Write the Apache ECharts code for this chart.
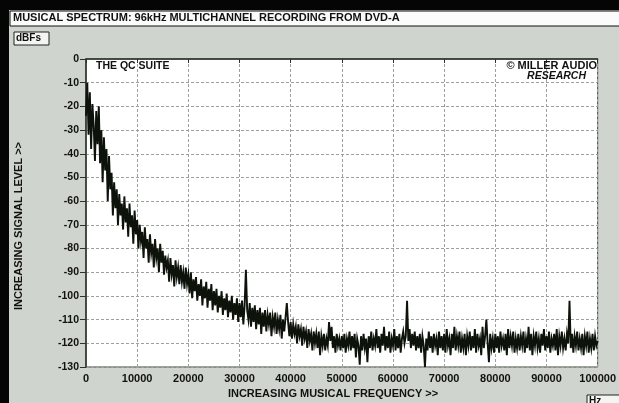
<!DOCTYPE html>
<html>
<head>
<meta charset="utf-8">
<script src="https://cdn.jsdelivr.net/npm/echarts@6/dist/echarts.min.js"></script>
<style>
html,body{margin:0;padding:0;background:#000;}
#chart{width:619px;height:403px;}
</style>
</head>
<body>
<div id="chart"></div>
<script>
// ---- data ----
var chartTitle = 'MUSICAL SPECTRUM: 96kHz MULTICHANNEL RECORDING FROM DVD-A';
var yUnit = 'dBFs';
var xUnit = 'Hz';
var xAxisName = 'INCREASING MUSICAL FREQUENCY >>';
var yAxisName = 'INCREASING SIGNAL LEVEL >>';
var xTicks = [0, 10000, 20000, 30000, 40000, 50000, 60000, 70000, 80000, 90000, 100000];
var yTicks = [0, -10, -20, -30, -40, -50, -60, -70, -80, -90, -100, -110, -120, -130];
var freqStepHz = 250; // spacing of the spectrum bins
// level in dBFs, one value per 250 Hz bin, 0 Hz .. 100 kHz
var levels = [
 -24,-10,-32,-14,-38,-19,-28,-43,-22,-36,-20,-44,-30,-52,-33,-47,-38,-60,-41,-55,
 -48,-66,-52,-63,-55,-70,-57,-66,-61,-72,-58,-69,-63,-75,-61,-71,-66,-78,-64,-74,
 -68,-80,-70,-77,-73,-84,-71,-80,-76,-86,-74,-82,-78,-88,-76,-84,-80,-90,-78,-86,
 -81,-91,-83,-88,-85,-94,-84,-91,-87,-96,-85,-92,-88,-95,-87,-94,-90,-97,-88,-95,
 -91,-99,-90,-101,-93,-98,-92,-102,-95,-100,-93,-104,-96,-101,-94,-105,-97,-102,-95,-106,
 -98,-104,-97,-107,-100,-105,-98,-108,-101,-106,-99,-109,-102,-107,-100,-110,-103,-108,-101,-111,
 -103,-109,-102,-112,-104,-89,-106,-110,-103,-113,-105,-111,-104,-114,-106,-112,-105,-116,-107,-113,
 -106,-115,-108,-112,-107,-117,-109,-113,-107,-116,-110,-114,-108,-118,-110,-115,-109,-103,-111,-117,
 -111,-118,-112,-116,-113,-120,-112,-117,-114,-121,-113,-118,-115,-122,-114,-119,-116,-123,-115,-120,
 -116,-122,-115,-125,-117,-121,-116,-123,-118,-121,-111,-119,-113,-122,-117,-124,-116,-121,-118,-123,
 -117,-122,-116,-124,-118,-121,-115,-123,-117,-122,-116,-126,-118,-121,-129,-117,-123,-116,-122,-118,
 -128,-117,-122,-115,-123,-118,-121,-114,-122,-117,-124,-116,-121,-113,-123,-117,-122,-115,-124,-118,
 -121,-114,-123,-117,-122,-116,-124,-118,-115,-120,-117,-102,-119,-114,-122,-116,-121,-115,-123,-117,
 -122,-116,-124,-117,-121,-130,-118,-123,-115,-122,-117,-124,-116,-121,-118,-125,-115,-122,-117,-123,
 -116,-124,-114,-121,-118,-125,-116,-122,-113,-123,-117,-121,-115,-124,-118,-122,-116,-125,-117,-121,
 -115,-123,-117,-122,-114,-124,-116,-121,-118,-125,-113,-122,-117,-110,-120,-128,-116,-122,-118,-124,
 -116,-122,-117,-124,-115,-121,-118,-123,-116,-125,-114,-122,-117,-121,-115,-124,-118,-122,-116,-123,
 -117,-121,-115,-124,-118,-122,-113,-123,-116,-125,-117,-121,-115,-122,-118,-124,-116,-121,-114,-123,
 -117,-122,-115,-124,-118,-121,-116,-123,-114,-125,-117,-121,-115,-122,-118,-123,-116,-120,-102,-122,
 -116,-124,-117,-121,-115,-123,-118,-122,-116,-125,-117,-121,-115,-124,-118,-122,-116,-123,-117,-121,
 -119
];
var annotTopLeft = 'THE QC SUITE';
var annotTopRight1 = '\u00A9 MILLER AUDIO';
var annotTopRight2 = 'RESEARCH';

// ---- build ----
var seriesData = levels.map(function (v, i) { return [i * freqStepHz, v]; });
var FONT = '"Liberation Sans", Arial, sans-serif';
var chart = echarts.init(document.getElementById('chart'), null, {renderer: 'canvas'});
var option = {
  backgroundColor: '#d0d4ce',
  animation: false,
  grid: {
    left: 86, right: 19, top: 59, bottom: 36,
    show: true, backgroundColor: '#ffffff',
    borderColor: '#3a4638', borderWidth: 1
  },
  xAxis: {
    type: 'value', min: xTicks[0], max: xTicks[xTicks.length - 1], interval: 10000,
    axisLine: {show: true, lineStyle: {color: '#2a3328', width: 1.5}},
    axisTick: {show: true, length: 4, lineStyle: {color: '#2a3328'}},
    axisLabel: {fontFamily: FONT, fontWeight: 'bold', fontSize: 11, color: '#111', margin: 6,
      formatter: function (v) { return xTicks.indexOf(v) >= 0 ? String(v) : ''; }},
    splitLine: {show: true, lineStyle: {color: '#9aa29a', type: [3, 2], width: 1}}
  },
  yAxis: {
    type: 'value', min: yTicks[yTicks.length - 1], max: yTicks[0], interval: 10,
    axisLine: {show: true, lineStyle: {color: '#2a3328', width: 1.5}},
    axisTick: {show: true, length: 6, lineStyle: {color: '#2a3328'}},
    axisLabel: {fontFamily: FONT, fontWeight: 'bold', fontSize: 10.5, color: '#111', margin: 7,
      formatter: function (v) { return yTicks.indexOf(v) >= 0 ? String(v) : ''; }},
    splitLine: {show: true, lineStyle: {color: '#9aa29a', type: [3, 2], width: 1}}
  },
  series: [{
    type: 'line', data: seriesData, showSymbol: false, symbol: 'none',
    sampling: null, clip: true,
    lineStyle: {color: '#0d120a', width: 1.9, join: 'miter'}
  }],
  graphic: [
    {type: 'rect', left: 0, top: 0, shape: {width: 619, height: 10}, style: {fill: '#050505'}, z: 10},
    {type: 'rect', left: 0, top: 0, shape: {width: 9, height: 403}, style: {fill: '#050505'}, z: 10},
    {type: 'rect', left: 9.5, top: 10.5, shape: {width: 612, height: 15}, style: {fill: '#fbfbfb', stroke: '#111', lineWidth: 1}, z: 10},
    {type: 'text', left: 13, top: 12.5, style: {text: chartTitle, fill: '#111', font: 'bold 11px ' + FONT}, z: 11},
    {type: 'rect', left: 13.5, top: 31.5, shape: {width: 35, height: 13}, style: {fill: '#f4f4f2', stroke: '#222', lineWidth: 1}, z: 10},
    {type: 'text', left: 16, top: 33, style: {text: yUnit, fill: '#111', font: 'bold 10px ' + FONT}, z: 11},
    {type: 'rect', left: 586.5, top: 394.5, shape: {width: 40, height: 12}, style: {fill: '#f4f4f2', stroke: '#222', lineWidth: 1}, z: 10},
    {type: 'text', left: 589, top: 396, style: {text: xUnit, fill: '#111', font: 'bold 10px ' + FONT}, z: 11},
    {type: 'text', left: 96, top: 60.5, style: {text: annotTopLeft, fill: '#111', font: 'bold 10.5px ' + FONT}, z: 11},
    {type: 'text', right: 22, top: 60, style: {text: annotTopRight1, fill: '#111', font: 'bold 11px ' + FONT}, z: 11},
    {type: 'text', right: 33, top: 71, style: {text: annotTopRight2, fill: '#111', font: 'italic bold 10.5px ' + FONT}, z: 11},
    {type: 'text', x: 333, y: 394, style: {text: xAxisName, fill: '#111', font: 'bold 11px ' + FONT, align: 'center', verticalAlign: 'middle'}, z: 11},
    {type: 'text', x: 19, y: 226, rotation: Math.PI / 2, style: {text: yAxisName, fill: '#111', font: 'bold 11px ' + FONT, align: 'center', verticalAlign: 'middle'}, z: 11}
  ]
};
chart.setOption(option);
</script>
</body>
</html>
